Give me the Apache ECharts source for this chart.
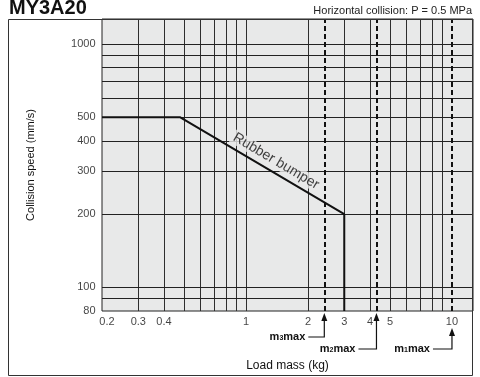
<!DOCTYPE html>
<html><head><meta charset="utf-8">
<script src="https://cdn.jsdelivr.net/npm/echarts@6/dist/echarts.min.js"></script>
<style>html,body{margin:0;padding:0;background:#fff;}#c{width:480px;height:377px;}</style>
</head><body><div id="c"></div>
<script>
const FONT = '"Liberation Sans", Arial, Helvetica, sans-serif';
const PLOT_BG = '#e8e9e9';
const INK = '#111';

// ---- data ----
const xRange = [0.2, 12.65];
const yRange = [80, 1267];
const xTickLabels = [0.2, 0.3, 0.4, 1, 2, 3, 4, 5, 10];
const yTickLabels = [80, 100, 200, 300, 400, 500, 1000];
const xGridValues = [0.3, 0.4, 0.5, 0.6, 0.7, 0.8, 0.9, 1, 2, 3, 4, 5, 6, 7, 8, 9];
const yGridValues = [90, 100, 200, 300, 400, 500, 600, 700, 800, 900, 1000];
const bumperMass = [0.2, 0.48, 3, 3];
const bumperSpeed = [500, 500, 200, 80];
const maxMass = [2.4, 4.3, 10];
const maxSubscripts = ['3', '2', '1'];
const bumperLabel = 'Rubber bumper';
const titleText = 'MY3A20';
const conditionText = 'Horizontal collision: P = 0.5 MPa';
const xName = 'Load mass (kg)';
const yName = 'Collision speed (mm/s)';

// ---- layout (pixels / anchors) ----
const maxLayout = [
  {tip: 2, drop: 26, hook: 16},
  {tip: 2, drop: 38, hook: 18},
  {tip: 17, drop: 38, hook: 19}
];
const bumperAnchor = [1.4, 330];

const chart = echarts.init(document.getElementById('c'), null, {renderer: 'canvas'});

function renderMax(params, api) {
  const i = params.dataIndex;
  const p = api.coord([api.value(0), api.value(1)]);
  const L = maxLayout[i];
  const x = p[0], y = p[1];
  const t = y + L.tip, b = t + 8, d = y + L.drop;
  return {
    type: 'group',
    children: [
      {type: 'polygon', shape: {points: [[x, t], [x - 3, b], [x + 3, b]]}, style: {fill: INK}},
      {type: 'polyline', shape: {points: [[x, b - 1], [x, d], [x - L.hook, d]]}, style: {stroke: INK, lineWidth: 1.2, fill: null}},
      {type: 'text', x: x - L.hook - 3, y: d,
        style: {
          text: '{b|m}{s|' + maxSubscripts[i] + '}{b|max}',
          align: 'right', verticalAlign: 'middle',
          rich: {
            b: {fontSize: 11, fontWeight: 'bold', fontFamily: FONT, fill: INK},
            s: {fontSize: 7, fontWeight: 'bold', fontFamily: FONT, fill: INK, padding: [3, 0, 0, 0]}
          }
        }
      }
    ]
  };
}

const hidden = {color: 'rgba(0,0,0,0)'};

const option = {
  animation: false,
  backgroundColor: '#fff',
  textStyle: {fontFamily: FONT},
  title: [
    {text: titleText, left: 9, top: -2, padding: 0,
      textStyle: {fontSize: 20, fontWeight: 'bold', color: INK, fontFamily: FONT}},
    {text: conditionText, right: 8, top: 5, padding: 0,
      textStyle: {fontSize: 11, fontWeight: 'normal', color: '#222', fontFamily: FONT}}
  ],
  grid: {
    left: 102, right: 7, top: 19, bottom: 66,
    show: true, backgroundColor: PLOT_BG, borderColor: '#222', borderWidth: 1,
    containLabel: false, outerBoundsMode: 'none'
  },
  xAxis: {
    type: 'log', logBase: 10, min: xRange[0], max: xRange[1],
    axisLine: {show: false}, axisTick: {show: false}, axisLabel: {show: false},
    splitLine: {show: false}, minorTick: {show: false}, minorSplitLine: {show: false},
    name: xName, nameLocation: 'middle', nameGap: 49,
    nameTextStyle: {fontSize: 12, color: INK, fontFamily: FONT}
  },
  yAxis: {
    type: 'log', logBase: 10, min: yRange[0], max: yRange[1],
    axisLine: {show: false}, axisTick: {show: false}, axisLabel: {show: false},
    splitLine: {show: false}, minorTick: {show: false}, minorSplitLine: {show: false},
    name: yName, nameLocation: 'middle', nameGap: 66,
    nameTextStyle: {fontSize: 11, color: INK, fontFamily: FONT}
  },
  graphic: [
    {type: 'rect', z: 50, silent: true,
      shape: {x: 8.5, y: 19.5, width: 464, height: 356},
      style: {fill: null, stroke: '#333', lineWidth: 1}}
  ],
  series: [
    {
      name: 'vgrid', type: 'lines', coordinateSystem: 'cartesian2d', silent: true, z: 1,
      data: xGridValues.map(v => ({coords: [[v, yRange[0]], [v, yRange[1]]]})),
      lineStyle: {color: '#2e2e2e', width: 1, opacity: 1, curveness: 0}
    },
    {
      name: 'hgrid', type: 'lines', coordinateSystem: 'cartesian2d', silent: true, z: 1,
      data: yGridValues.map(v => ({coords: [[xRange[0], v], [xRange[1], v]]})),
      lineStyle: {color: '#222', width: 1, opacity: 1, curveness: 0}
    },
    {
      name: 'maxLines', type: 'lines', coordinateSystem: 'cartesian2d', silent: true, z: 3,
      data: maxMass.map(v => ({coords: [[v, yRange[0]], [v, yRange[1]]]})),
      lineStyle: {color: INK, width: 2, opacity: 1, type: [5, 3], curveness: 0}
    },
    {
      name: 'Rubber bumper', type: 'line', z: 4, symbol: 'none',
      data: bumperMass.map((m, i) => [m, bumperSpeed[i]]),
      lineStyle: {color: INK, width: 2}
    },
    {
      name: 'bumperLabel', type: 'scatter', z: 5, silent: true, clip: false,
      symbolSize: 1, itemStyle: hidden,
      data: [bumperAnchor],
      label: {show: true, position: 'inside', formatter: bumperLabel, rotate: -30.6,
        fontSize: 14, color: INK, fontFamily: FONT, backgroundColor: PLOT_BG, padding: [0, 2]}
    },
    {
      name: 'xTicks', type: 'scatter', z: 6, silent: true, clip: false,
      symbolSize: 1, itemStyle: hidden,
      data: xTickLabels.map((v, i) => i === 0 ? {value: [v, yRange[0]], label: {offset: [5, 0]}} : {value: [v, yRange[0]]}),
      label: {show: true, position: 'bottom', distance: 5, formatter: p => String(p.value[0]),
        fontSize: 11, color: INK, fontFamily: FONT}
    },
    {
      name: 'yTicks', type: 'scatter', z: 6, silent: true, clip: false,
      symbolSize: 1, itemStyle: hidden,
      data: yTickLabels.map(v => [xRange[0], v]),
      label: {show: true, position: 'left', distance: 6, formatter: p => String(p.value[1]),
        fontSize: 11, color: INK, fontFamily: FONT}
    },
    {
      name: 'maxMarks', type: 'custom', z: 6, silent: true, clip: false,
      data: maxMass.map(v => [v, yRange[0]]),
      renderItem: renderMax
    }
  ]
};
chart.setOption(option);
</script>
</body></html>
